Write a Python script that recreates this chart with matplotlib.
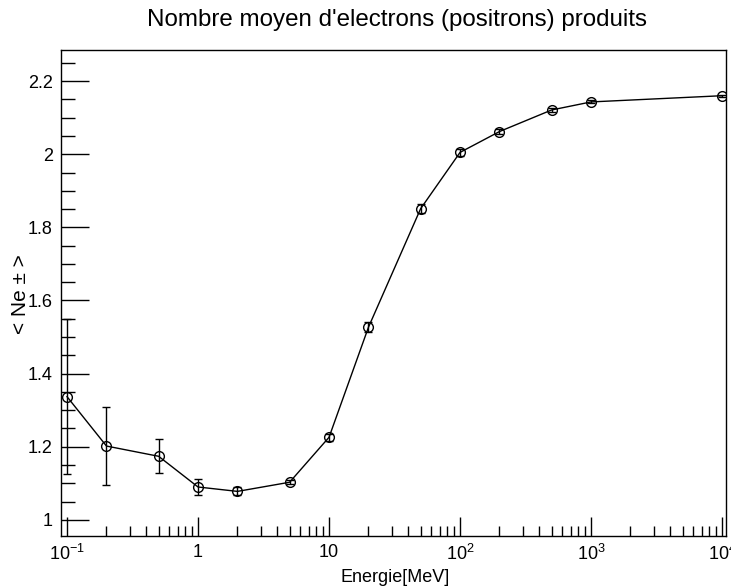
import numpy as np
import matplotlib.pyplot as plt
from matplotlib.ticker import FixedLocator, FuncFormatter, MultipleLocator

plt.rcParams["font.family"] = ["Liberation Sans", "DejaVu Sans"]
plt.rcParams["mathtext.fontset"] = "custom"
plt.rcParams["mathtext.rm"] = "Liberation Sans"
plt.rcParams["mathtext.it"] = "Liberation Sans:italic"

# energies in MeV and mean number of e+/e- produced
energy = [0.1, 0.2, 0.5, 1, 2, 5, 10, 20, 50, 100, 200, 500, 1000, 10000]
mean_ne = [1.337, 1.202, 1.174, 1.090, 1.078, 1.103, 1.226, 1.527, 1.851,
           2.005, 2.062, 2.121, 2.143, 2.160]
err_ne = [0.212, 0.107, 0.046, 0.022, 0.011, 0.005, 0.010, 0.013, 0.012,
          0.010, 0.007, 0.006, 0.004, 0.003]

major_x = [0.1, 1, 10, 100, 1000, 10000]
major_x_labels = ["$10^{-1}$", "1", "10", "$10^{2}$", "$10^{3}$", "$10^{4}$"]

fig = plt.figure(figsize=(7.31, 5.87), dpi=100)
ax = fig.add_axes([61 / 731, 51 / 587, 665 / 731, 486 / 587])

ax.errorbar(energy, mean_ne, yerr=err_ne, color="black", lw=1,
            marker="o", ms=7, mfc="none", mec="black", mew=1,
            elinewidth=1, capsize=3, capthick=1)

ax.set_xscale("log")
ax.set_xlim(10 ** -1.046, 10 ** 4.03)
ax.set_ylim(0.956, 2.285)

ax.xaxis.set_major_locator(FixedLocator(major_x))
ax.xaxis.set_major_formatter(FuncFormatter(
    lambda v, p: major_x_labels[major_x.index(v)] if v in major_x else ""))
minor_x = [m * 10.0 ** d for d in range(-1, 4) for m in range(2, 10)]
ax.xaxis.set_minor_locator(FixedLocator(minor_x))
ax.xaxis.set_minor_formatter(FuncFormatter(lambda v, p: ""))

ax.yaxis.set_major_locator(MultipleLocator(0.2))
ax.yaxis.set_minor_locator(MultipleLocator(0.05))
ax.yaxis.set_major_formatter(FuncFormatter(lambda v, p: "%g" % round(v, 2)))

ax.tick_params(axis="both", which="both", direction="in", top=False, right=False,
               labelsize=13, colors="black")
ax.tick_params(axis="y", which="major", length=20, width=1, pad=6)
ax.tick_params(axis="y", which="minor", length=10, width=1)
ax.tick_params(axis="x", which="major", length=14, width=1, pad=6)
ax.tick_params(axis="x", which="minor", length=7, width=1)

for s in ax.spines.values():
    s.set_linewidth(1)

fig.text(397 / 731, 1 - 20 / 587, "Nombre moyen d'electrons (positrons) produits",
         ha="center", va="center", fontsize=17.4)
fig.text(395 / 731, 1 - 578 / 587, "Energie[MeV]", ha="center", va="center",
         fontsize=13)
fig.text(21 / 731, 1 - 294 / 587, "< Ne \u00b1 >", ha="center", va="center",
         rotation=90, fontsize=15)

fig.savefig("out.png", dpi=100)
